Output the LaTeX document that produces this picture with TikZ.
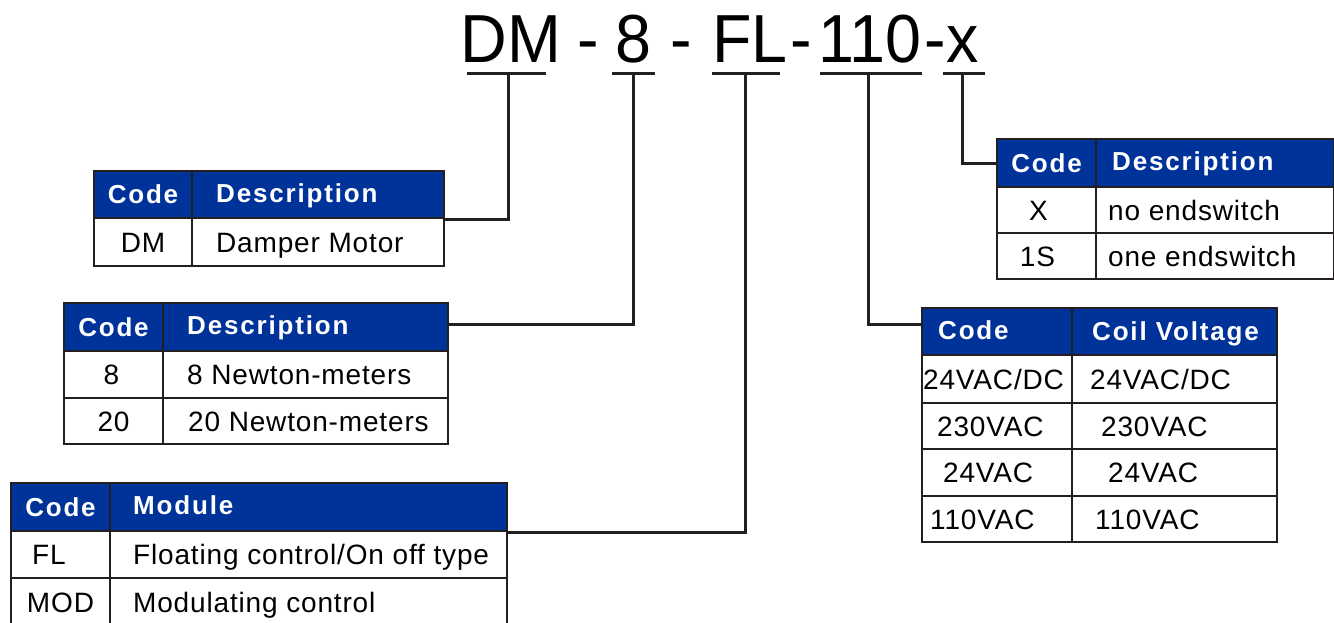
\documentclass[tikz,border=0pt]{standalone}
\usepackage{fontspec}
\setmainfont{Liberation Sans}
\newfontfamily\hdfont[LetterSpace=7]{Liberation Sans}
\newfontfamily\bdfont[LetterSpace=3]{Liberation Sans}
\usetikzlibrary{calc}
\definecolor{hdblue}{RGB}{0,51,153}
\definecolor{ink}{RGB}{35,31,32}
\newcommand\mkcell[6]{\node[#6, minimum width={(#4)-(#2)}, minimum height={(#5)-(#3)}] (#1) at (#2,#3) {};}
\newcommand\txl[6]{\node[#6, anchor=base west] (#1) at ($(#2.west)+(#3,#4)$) {#5};}
\newcommand\txc[6]{\node[#6, anchor=base] (#1) at ($(#2.center)+(#3,#4)$) {#5};}
\newcommand\ttl[1]{\scalebox{0.95}[1]{#1}}
\begin{document}
\begin{tikzpicture}[x=1pt,y=-1pt,
  cellbox/.style={draw=ink, line width=2pt, inner sep=0pt, anchor=north west, fill=white},
  hdcell/.style={cellbox, fill=hdblue},
  hdtext/.style={font=\hdfont\bfseries\fontsize{26}{30}\selectfont, text=white, inner sep=0pt},
  bodytext/.style={font=\bdfont\fontsize{28}{31}\selectfont, text=black, inner sep=0pt},
  titletext/.style={font=\fontsize{68}{72}\selectfont, text=black, inner sep=0pt, anchor=base},
  uline/.style={draw=ink, line width=3pt},
  conn/.style={draw=ink, line width=3pt}
]
\clip (0,0) rectangle (1334,622);
\fill[white] (0,0) rectangle (1334,622);

% title
\node[titletext] (tdm) at (511,62) {\ttl{DM}};
\node[titletext] (th1) at (588.5,62) {\ttl{-}};
\node[titletext] (t8) at (633,62) {\ttl{8}};
\node[titletext] (th2) at (681.5,62) {\ttl{-}};
\node[titletext] (tfl) at (750,62) {\ttl{FL}};
\node[titletext] (th3) at (801.5,62) {\ttl{-}};
\node[titletext] (t110) at (870,62) {\ttl{110}};
\node[titletext] (th4) at (935.5,62) {\ttl{-}};
\node[titletext] (tx) at (963,62) {\ttl{x}};
\coordinate (j1) at (508,73);
\coordinate (j2) at (633,73);
\coordinate (j3) at (745,73);
\coordinate (j4) at (868,73);
\coordinate (j5) at (962,73);
\draw[uline] (467,73) -- (546,73);
\draw[uline] (612,73) -- (655,73);
\draw[uline] (712,73) -- (780,73);
\draw[uline] (820,73) -- (922,73);
\draw[uline] (943,73) -- (985,73);

% table 1
\mkcell{t1hc}{93}{170}{191}{217}{hdcell}
\mkcell{t1hd}{191}{170}{443}{217}{hdcell}
\mkcell{t1ac}{93}{217}{191}{265}{cellbox}
\mkcell{t1ad}{191}{217}{443}{265}{cellbox}
\txc{t1hcx}{t1hc}{0}{9}{Code}{hdtext}
\txl{t1hdx}{t1hd}{25}{7.5}{Description}{hdtext}
\txc{t1acx}{t1ac}{0}{10}{DM}{bodytext}
\txl{t1adx}{t1ad}{25}{10}{Damper Motor}{bodytext}

% table 2
\mkcell{t2hc}{63}{302}{162}{350}{hdcell}
\mkcell{t2hd}{162}{302}{447}{350}{hdcell}
\mkcell{t2ac}{63}{350}{162}{397}{cellbox}
\mkcell{t2ad}{162}{350}{447}{397}{cellbox}
\mkcell{t2bc}{63}{397}{162}{443}{cellbox}
\mkcell{t2bd}{162}{397}{447}{443}{cellbox}
\txc{t2hcx}{t2hc}{0}{9}{Code}{hdtext}
\txl{t2hdx}{t2hd}{25}{7}{Description}{hdtext}
\txc{t2acx}{t2ac}{-2}{10}{8}{bodytext}
\txl{t2adx}{t2ad}{25}{10}{8 Newton-meters}{bodytext}
\txc{t2bcx}{t2bc}{0}{10}{20}{bodytext}
\txl{t2bdx}{t2bd}{26}{10}{20 Newton-meters}{bodytext}

% table 3
\mkcell{t3hc}{10}{482}{109}{530}{hdcell}
\mkcell{t3hd}{109}{482}{506}{530}{hdcell}
\mkcell{t3ac}{10}{530}{109}{577}{cellbox}
\mkcell{t3ad}{109}{530}{506}{577}{cellbox}
\mkcell{t3bc}{10}{577}{109}{626}{cellbox}
\mkcell{t3bd}{109}{577}{506}{626}{cellbox}
\txc{t3hcx}{t3hc}{0}{9}{Code}{hdtext}
\txl{t3hdx}{t3hd}{24}{7}{Module}{hdtext}
\txl{t3acx}{t3ac}{22}{10}{FL}{bodytext}
\txc{t3bcx}{t3bc}{0}{10}{MOD}{bodytext}
\txl{t3adx}{t3ad}{24}{10}{Floating control/On off type}{bodytext}
\txl{t3bdx}{t3bd}{24}{10}{Modulating control}{bodytext}

% table 4
\mkcell{t4hc}{996}{138}{1095}{186}{hdcell}
\mkcell{t4hd}{1095}{138}{1333}{186}{hdcell}
\mkcell{t4ac}{996}{186}{1095}{232}{cellbox}
\mkcell{t4ad}{1095}{186}{1333}{232}{cellbox}
\mkcell{t4bc}{996}{232}{1095}{278}{cellbox}
\mkcell{t4bd}{1095}{232}{1333}{278}{cellbox}
\txc{t4hcx}{t4hc}{0}{9}{Code}{hdtext}
\txl{t4hdx}{t4hd}{17}{7.5}{Description}{hdtext}
\txc{t4acx}{t4ac}{-8}{10}{X}{bodytext}
\txc{t4bcx}{t4bc}{-9}{10}{1S}{bodytext}
\txl{t4adx}{t4ad}{13}{10}{no endswitch}{bodytext}
\txl{t4bdx}{t4bd}{13}{10}{one endswitch}{bodytext}

% table 5
\mkcell{t5hc}{921}{307}{1071}{354}{hdcell}
\mkcell{t5hd}{1071}{307}{1276}{354}{hdcell}
\mkcell{t5ac}{921}{354}{1071}{402}{cellbox}
\mkcell{t5ad}{1071}{354}{1276}{402}{cellbox}
\mkcell{t5bc}{921}{402}{1071}{448}{cellbox}
\mkcell{t5bd}{1071}{402}{1276}{448}{cellbox}
\mkcell{t5cc}{921}{448}{1071}{495}{cellbox}
\mkcell{t5cd}{1071}{448}{1276}{495}{cellbox}
\mkcell{t5dc}{921}{495}{1071}{541}{cellbox}
\mkcell{t5dd}{1071}{495}{1276}{541}{cellbox}
\txl{t5hcx}{t5hc}{17}{8}{Code}{hdtext}
\txl{t5hdx}{t5hd}{21}{9}{Coil Voltage}{hdtext}
\txl{t5acx}{t5ac}{2}{10}{24VAC/DC}{bodytext}
\txl{t5adx}{t5ad}{19}{10}{24VAC/DC}{bodytext}
\txl{t5bcx}{t5bc}{16}{10}{230VAC}{bodytext}
\txl{t5bdx}{t5bd}{30}{10}{230VAC}{bodytext}
\txl{t5ccx}{t5cc}{22}{10}{24VAC}{bodytext}
\txl{t5cdx}{t5cd}{37}{10}{24VAC}{bodytext}
\txl{t5dcx}{t5dc}{9}{10}{110VAC}{bodytext}
\txl{t5ddx}{t5dd}{24}{10}{110VAC}{bodytext}

% connectors
\draw[conn] (j1) |- (t1hd.south east);
\draw[conn] (j2) |- ([yshift=3pt]t2hd.east);
\draw[conn] (j3) |- (t3hd.south east);
\draw[conn] (j4) |- ([yshift=7pt]t5hc.west);
\draw[conn] (j5) |- (t4hc.west);
\end{tikzpicture}
\end{document}
